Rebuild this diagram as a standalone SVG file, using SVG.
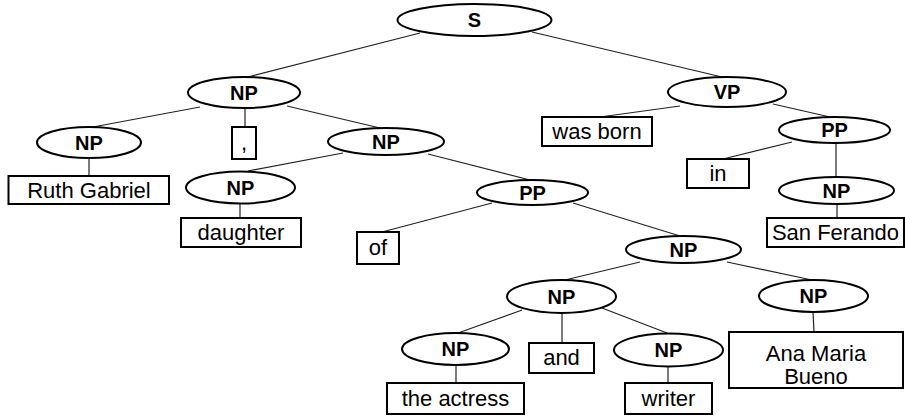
<svg xmlns="http://www.w3.org/2000/svg" width="905" height="418" viewBox="0 0 905 418">
<style>
.e{fill:#fff;stroke:#000;stroke-width:2}
.b{fill:#fff;stroke:#000;stroke-width:2}
.c line{stroke:#222;stroke-width:1.2}
.l{font-family:"Liberation Sans",Arial,sans-serif;font-weight:bold;font-size:20px;text-anchor:middle;fill:#000}
.t{font-family:"Liberation Sans",Arial,sans-serif;font-size:22px;text-anchor:middle;fill:#000}
</style>
<rect width="905" height="418" fill="#fff"/>
<g id="connectors" class="c">
<line x1="420" y1="33" x2="248" y2="77"/>
<line x1="532" y1="32" x2="722" y2="77"/>
<line x1="200" y1="107" x2="93" y2="127"/>
<line x1="245" y1="108" x2="245" y2="127"/>
<line x1="287" y1="106" x2="380" y2="128"/>
<line x1="89" y1="158" x2="89" y2="176"/>
<line x1="343" y1="153" x2="248" y2="171"/>
<line x1="428" y1="154" x2="530" y2="180"/>
<line x1="240" y1="204" x2="240" y2="218"/>
<line x1="492" y1="203" x2="382" y2="232"/>
<line x1="573" y1="203" x2="680" y2="236"/>
<line x1="640" y1="262" x2="565" y2="280"/>
<line x1="727" y1="262" x2="812" y2="280"/>
<line x1="522" y1="310" x2="458" y2="333"/>
<line x1="562" y1="313" x2="562" y2="343"/>
<line x1="602" y1="308" x2="667" y2="333"/>
<line x1="456" y1="365" x2="456" y2="383"/>
<line x1="668" y1="367" x2="668" y2="383"/>
<line x1="813" y1="312" x2="814" y2="332"/>
<line x1="680" y1="106" x2="600" y2="117"/>
<line x1="773" y1="104" x2="830" y2="117"/>
<line x1="792" y1="142" x2="723" y2="159"/>
<line x1="836" y1="143" x2="836" y2="177"/>
<line x1="837" y1="204" x2="837" y2="218"/>
</g>
<g id="S"><ellipse class="e" cx="474.5" cy="20" rx="77" ry="16"/><text class="l" x="474.5" y="27">S</text></g>
<g id="NP1"><ellipse class="e" cx="244" cy="92.5" rx="56" ry="15.5"/><text class="l" x="244" y="100">NP</text></g>
<g id="VP"><ellipse class="e" cx="727" cy="92" rx="59" ry="15"/><text class="l" x="727" y="99">VP</text></g>
<g id="NP2"><ellipse class="e" cx="89" cy="142.5" rx="52" ry="15.5"/><text class="l" x="89" y="150">NP</text></g>
<g id="comma"><rect class="b" x="232" y="127" width="24" height="32"/><text class="t" x="244" y="150">,</text></g>
<g id="NP3"><ellipse class="e" cx="386" cy="141.5" rx="58" ry="13.5"/><text class="l" x="386" y="149">NP</text></g>
<g id="RuthGabriel"><rect class="b" x="8.5" y="176" width="160.5" height="28"/><text class="t" x="89" y="198">Ruth Gabriel</text></g>
<g id="NP4"><ellipse class="e" cx="240.5" cy="187.5" rx="54.5" ry="16"/><text class="l" x="240.5" y="195">NP</text></g>
<g id="daughter"><rect class="b" x="181" y="218" width="120" height="29"/><text class="t" x="241" y="240">daughter</text></g>
<g id="wasborn"><rect class="b" x="542" y="117" width="110" height="29"/><text class="t" x="597" y="139">was born</text></g>
<g id="PP2"><ellipse class="e" cx="834.5" cy="130" rx="55.5" ry="13"/><text class="l" x="834.5" y="137">PP</text></g>
<g id="in"><rect class="b" x="687" y="159" width="62" height="29"/><text class="t" x="718" y="181">in</text></g>
<g id="NP5"><ellipse class="e" cx="836.5" cy="190.5" rx="57.5" ry="13.5"/><text class="l" x="836.5" y="198">NP</text></g>
<g id="SanFerando"><rect class="b" x="767" y="218" width="137" height="29"/><text class="t" x="835.5" y="240">San Ferando</text></g>
<g id="PP1"><ellipse class="e" cx="532.5" cy="192.5" rx="55.5" ry="12.5"/><text class="l" x="532.5" y="200">PP</text></g>
<g id="of"><rect class="b" x="357" y="232" width="42" height="32"/><text class="t" x="378" y="255">of</text></g>
<g id="NP6"><ellipse class="e" cx="683.5" cy="249.5" rx="57.5" ry="13.5"/><text class="l" x="683.5" y="257">NP</text></g>
<g id="NP7"><ellipse class="e" cx="561.5" cy="296.5" rx="54.5" ry="16.5"/><text class="l" x="561.5" y="304">NP</text></g>
<g id="NP8"><ellipse class="e" cx="813.5" cy="296" rx="54.5" ry="16"/><text class="l" x="813.5" y="303">NP</text></g>
<g id="AnaMariaBueno"><rect class="b" x="729" y="332" width="174" height="56"/><text class="t" x="816" y="361">Ana Maria</text><text class="t" x="816" y="384">Bueno</text></g>
<g id="NP9"><ellipse class="e" cx="455.5" cy="349" rx="53.5" ry="16"/><text class="l" x="455.5" y="356">NP</text></g>
<g id="and"><rect class="b" x="529" y="343" width="65" height="30"/><text class="t" x="561.5" y="365">and</text></g>
<g id="NP10"><ellipse class="e" cx="668.5" cy="350" rx="54.5" ry="16.5"/><text class="l" x="668.5" y="357">NP</text></g>
<g id="theactress"><rect class="b" x="387" y="383" width="137" height="31"/><text class="t" x="455.5" y="406">the actress</text></g>
<g id="writer"><rect class="b" x="625" y="383" width="87" height="31"/><text class="t" x="668.5" y="406">writer</text></g>
</svg>
